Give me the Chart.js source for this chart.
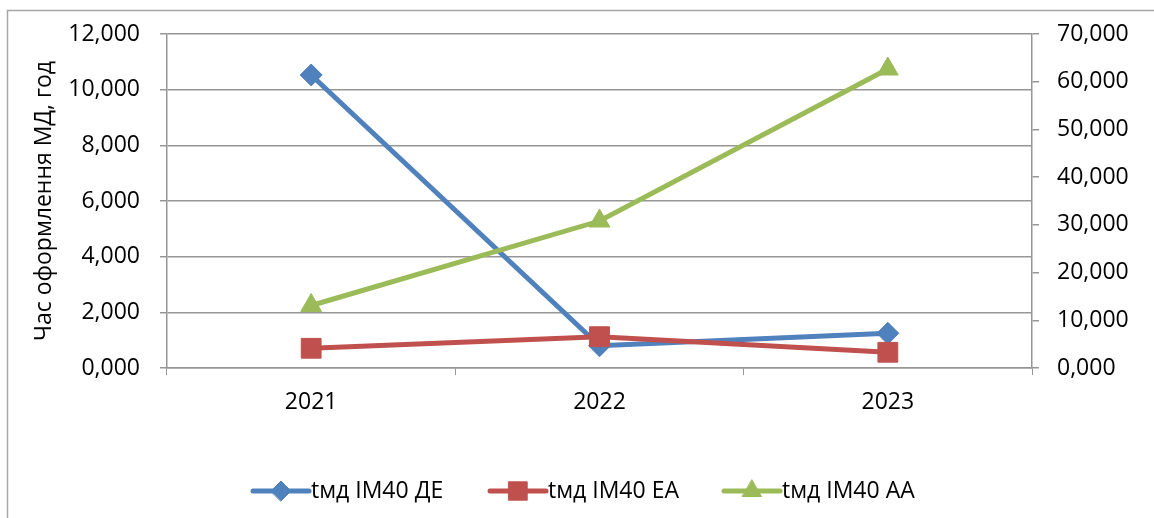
<!DOCTYPE html>
<html>
<head>
<meta charset="utf-8">
<script src="https://cdn.jsdelivr.net/npm/chart.js@4/dist/chart.umd.min.js"></script>
<style>
  html, body { margin: 0; padding: 0; background: #fff; }
  #wrap { position: absolute; left: 0; top: 0; width: 1154px; height: 518px; }
</style>
</head>
<body>
<div id="wrap"><canvas id="c" width="1154" height="518"></canvas></div>
<script>
const categories = ['2021', '2022', '2023'];
const seriesNames = ['tмд ІМ40 ДЕ', 'tмд ІМ40 ЕА', 'tмд ІМ40 АА'];
const valuesDE = [10.527, 0.80, 1.247];
const valuesEA = [0.708, 1.125, 0.564];
const valuesAA = [13.1, 30.8, 62.66];
const leftTicks = [0, 2, 4, 6, 8, 10, 12];
const rightTicks = [0, 10, 20, 30, 40, 50, 60, 70];
const yTitle = 'Час оформлення МД, год';

const FONT = "'Open Sans', 'Liberation Sans', sans-serif";
const FS = 23;
const GRID = '#969696';
const fmt = v => Number(v).toFixed(3).replace('.', ',');

const framePlugin = {
  id: 'frame',
  beforeDraw(chart) {
    const ctx = chart.ctx;
    ctx.save();
    ctx.fillStyle = '#fff';
    ctx.fillRect(0, 0, chart.width, chart.height);
    ctx.strokeStyle = '#a6a6a6';
    ctx.lineWidth = 1.5;
    ctx.beginPath();
    ctx.moveTo(7.5, chart.height + 2);
    ctx.lineTo(7.5, 10.5);
    ctx.lineTo(chart.width + 2, 10.5);
    ctx.stroke();
    ctx.restore();
  }
};

const legendPlugin = {
  id: 'lineLegend',
  afterDraw(chart) {
    const ctx = chart.ctx;
    const y = 491;
    const starts = [253, 490, 724];
    ctx.save();
    ctx.font = FS + 'px ' + FONT;
    ctx.textBaseline = 'middle';
    chart.data.datasets.forEach((ds, i) => {
      const x0 = starts[i];
      const lineLen = 56;
      ctx.strokeStyle = ds.borderColor;
      ctx.lineWidth = 5;
      ctx.lineCap = 'round';
      ctx.beginPath();
      ctx.moveTo(x0, y);
      ctx.lineTo(x0 + lineLen, y);
      ctx.stroke();
      ctx.fillStyle = ds.backgroundColor;
      ctx.strokeStyle = ds.borderColor;
      ctx.lineWidth = 1;
      Chart.helpers.drawPoint(ctx, {
        pointStyle: ds.pointStyle,
        radius: ds.legendRadius,
        borderWidth: 1,
        rotation: 0
      }, x0 + lineLen / 2, y);
      ctx.fillStyle = '#000';
      ctx.fillText(ds.label, x0 + lineLen + 2, y);
    });
    ctx.restore();
  }
};

function mk(label, data, color, style, radius, axis, order, legendRadius) {
  return {
    label, data, yAxisID: axis, order,
    borderColor: color, backgroundColor: color,
    pointBackgroundColor: color, pointBorderColor: color,
    borderWidth: 5, pointStyle: style, pointRadius: radius,
    pointBorderWidth: 1, tension: 0, legendRadius
  };
}

new Chart(document.getElementById('c'), {
  type: 'line',
  data: {
    labels: categories,
    datasets: [
      mk(seriesNames[0], valuesDE, '#4F81BD', 'rectRot', 11, 'y', 2, 10),
      mk(seriesNames[1], valuesEA, '#C0504D', 'rect', 14, 'y', 1, 13),
      mk(seriesNames[2], valuesAA, '#9BBB59', 'triangle', 12, 'y1', 0, 11)
    ]
  },
  options: {
    responsive: false,
    animation: false,
    layout: { padding: { top: 34, left: 0, right: 0, bottom: 0 } },
    plugins: { legend: { display: false }, tooltip: { enabled: false } },
    scales: {
      x: {
        type: 'category',
        offset: true,
        grid: { display: true, offset: true, drawOnChartArea: false, drawTicks: true, tickLength: 7, color: GRID },
        border: { display: true, color: GRID, width: 1.5 },
        ticks: { font: { family: FONT, size: FS }, color: '#000', padding: 14 },
        afterFit(s) { s.height = 150; }
      },
      y: {
        position: 'left',
        min: 0, max: 12,
        afterBuildTicks(s) { s.ticks = leftTicks.map(v => ({ value: v })); },
        grid: { color: GRID, lineWidth: 1.5, tickLength: 7 },
        border: { display: true, color: GRID, width: 1.5 },
        ticks: { font: { family: FONT, size: FS }, color: '#000', padding: 20, callback: v => fmt(v) },
        title: { display: true, text: yTitle, font: { family: FONT, size: FS }, color: '#000', padding: { top: 31, bottom: 0 } },
        afterFit(s) { s.width = 167; }
      },
      y1: {
        position: 'right',
        min: 0, max: 70,
        afterBuildTicks(s) { s.ticks = rightTicks.map(v => ({ value: v })); },
        grid: { drawOnChartArea: false, color: GRID, lineWidth: 1.5, tickLength: 7 },
        border: { display: true, color: GRID, width: 1.5 },
        ticks: { font: { family: FONT, size: FS }, color: '#000', padding: 18, callback: v => fmt(v) },
        afterFit(s) { s.width = 122; }
      }
    }
  },
  plugins: [framePlugin, legendPlugin]
});
</script>
</body>
</html>
